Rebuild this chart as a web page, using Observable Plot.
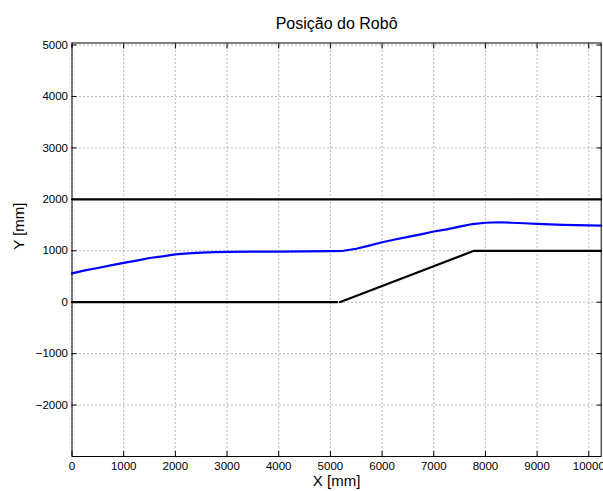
<!DOCTYPE html>
<html>
<head>
<meta charset="utf-8">
<script src="https://cdn.jsdelivr.net/npm/d3@7"></script>
<script src="https://cdn.jsdelivr.net/npm/@observablehq/plot@0.6"></script>
<style>
  html, body { margin: 0; padding: 0; background: #fff; }
  svg { display: block; }
</style>
</head>
<body>
<div id="chart"></div>
<script>
const title = "Posição do Robô";
const xLabel = "X [mm]";
const yLabel = "Y [mm]";

const xTicks = [0, 1000, 2000, 3000, 4000, 5000, 6000, 7000, 8000, 9000, 10000];
const yTicks = [-2000, -1000, 0, 1000, 2000, 3000, 4000, 5000];

// Robot trajectory (blue)
const robotX = [0, 250, 500, 750, 1000, 1250, 1500, 1750, 2000, 2250, 2500, 2750, 3000, 3500, 4000, 4500, 5000, 5250, 5500, 5750, 6000, 6250, 6500, 6750, 7000, 7250, 7500, 7750, 8000, 8250, 8500, 8750, 9000, 9250, 9500, 9750, 10000, 10240];
const robotY = [560, 620, 665, 715, 765, 810, 860, 890, 930, 950, 965, 975, 980, 985, 985, 990, 995, 1000, 1040, 1100, 1165, 1220, 1270, 1320, 1375, 1415, 1470, 1520, 1545, 1555, 1545, 1535, 1525, 1515, 1505, 1500, 1495, 1490];

// Walls (black)
const upperWallX = [0, 10240];
const upperWallY = [2000, 2000];
const lowerWall1X = [0, 5130];
const lowerWall1Y = [0, 0];
const lowerWall2X = [5180, 7780, 10240];
const lowerWall2Y = [0, 1000, 1000];

const xDomain = [0, 10240];
const yDomain = [-3000, 5040];

const zip = (xs, ys) => xs.map((x, i) => ({x, y: ys[i]}));
const fmt = d3.format("d");

const font = "'Liberation Sans', Arial, Helvetica, sans-serif";

const chart = Plot.plot({
  width: 603,
  height: 491,
  marginLeft: 71.5,
  marginRight: 2.3,
  marginTop: 42.5,
  marginBottom: 35,
  style: {fontFamily: font, fontSize: "12px", color: "#000", background: "#fff"},
  x: {domain: xDomain},
  y: {domain: yDomain},
  marks: [
    Plot.gridX(xTicks, {stroke: "#000", strokeOpacity: 0.55, strokeDasharray: "1,3"}),
    Plot.gridY(yTicks, {stroke: "#000", strokeOpacity: 0.55, strokeDasharray: "1,3"}),
    Plot.line(zip(upperWallX, upperWallY), {x: "x", y: "y", stroke: "#000", strokeWidth: 2.2}),
    Plot.line(zip(lowerWall1X, lowerWall1Y), {x: "x", y: "y", stroke: "#000", strokeWidth: 2.2}),
    Plot.line(zip(lowerWall2X, lowerWall2Y), {x: "x", y: "y", stroke: "#000", strokeWidth: 2.2}),
    Plot.line(zip(robotX, robotY), {x: "x", y: "y", stroke: "#0000ff", strokeWidth: 2.2, curve: "linear"}),
    // inward ticks on all four sides
    Plot.axisX(xTicks, {anchor: "bottom", tickSize: 5, dy: -5, text: null, label: null, stroke: "#000"}),
    Plot.axisX(xTicks, {anchor: "top", tickSize: 5, dy: 5, text: null, label: null, stroke: "#000"}),
    Plot.axisY(yTicks, {anchor: "left", tickSize: 5, dx: 5, text: null, label: null, stroke: "#000"}),
    Plot.axisY(yTicks, {anchor: "right", tickSize: 5, dx: -5, text: null, label: null, stroke: "#000"}),
    // tick labels
    Plot.axisX(xTicks, {anchor: "bottom", tickSize: 0, tickPadding: 5, fontSize: 11.5, tickFormat: fmt, label: null}),
    Plot.axisY(yTicks, {anchor: "left", tickSize: 0, tickPadding: 4, fontSize: 11.5, tickFormat: fmt, label: null}),
    Plot.frame({stroke: "#000", strokeWidth: 1}),
    // axis titles and chart title
    Plot.text([xLabel], {frameAnchor: "bottom", dy: 29, fontSize: 15, fill: "#000"}),
    Plot.text([yLabel], {frameAnchor: "left", dx: -53, rotate: -90, fontSize: 15, fill: "#000"}),
    Plot.text([title], {frameAnchor: "top", dy: -25, fontSize: 16, fill: "#000"})
  ]
});

document.getElementById("chart").appendChild(chart);
</script>
</body>
</html>
